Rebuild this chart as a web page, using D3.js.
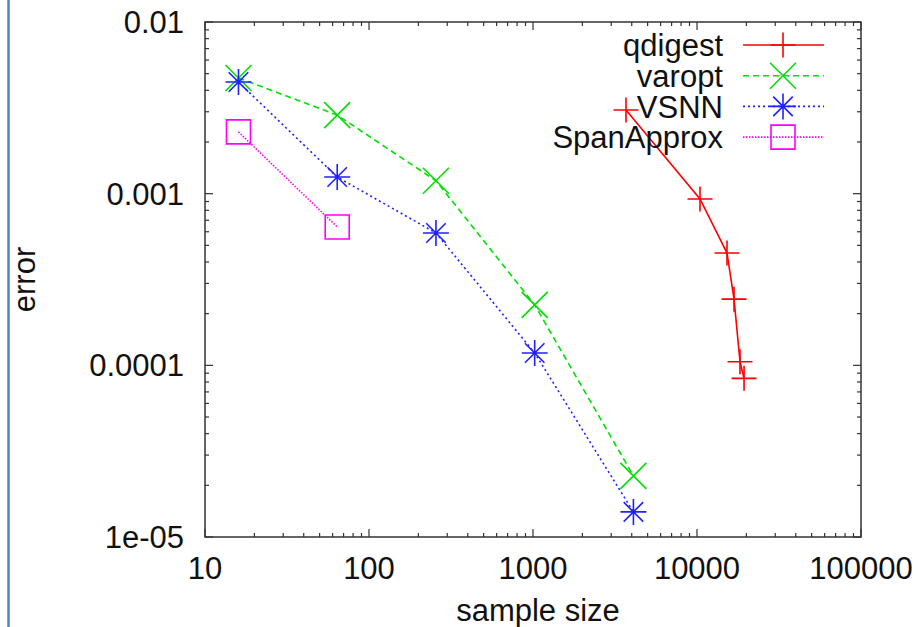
<!DOCTYPE html>
<html>
<head>
<meta charset="utf-8">
<script src="https://cdn.jsdelivr.net/npm/d3@7"></script>
<style>
  body { margin: 0; background: #fff; }
  text { font-family: "Liberation Sans", Arial, sans-serif; fill: #111; }
</style>
</head>
<body>
<div class="chart"></div>
<script>
// chart data
var sampleSizes = [16, 64, 256, 1024, 4096];
var varoptErr = [0.00472, 0.00287, 0.00119, 0.000225, 0.0000227];
var vsnnErr = [0.00447, 0.00125, 0.00059, 0.000118, 0.000014];
var spanSizes = [16, 64];
var spanErr = [0.00229, 0.00064];
var qdigestSizes = [3690, 10430, 15240, 16820, 18290, 19360];
var qdigestErr = [0.00307, 0.000931, 0.000451, 0.000243, 0.000105, 0.000084];

var xTicks = [10, 100, 1000, 10000, 100000];
var yTicks = [0.00001, 0.0001, 0.001, 0.01];
var yTickLabels = ["1e-05", "0.0001", "0.001", "0.01"];

var series = [
  { name: "qdigest", xs: qdigestSizes, ys: qdigestErr, color: "#ff0000", dash: null, marker: "plus" },
  { name: "varopt", xs: sampleSizes, ys: varoptErr, color: "#00e000", dash: "6,4", marker: "cross" },
  { name: "VSNN", xs: sampleSizes, ys: vsnnErr, color: "#2020ff", dash: "2,3", marker: "star" },
  { name: "SpanApprox", xs: spanSizes, ys: spanErr, color: "#ff00ff", dash: "1.5,1.5", marker: "square" }
];

var fontSize = "31px";

var svgWidth = 918;
var svgHeight = 627;
var margin = { top: 22, right: 57, bottom: 90, left: 205 };
var width = svgWidth - margin.left - margin.right;
var height = svgHeight - margin.top - margin.bottom;

var svg = d3.select(".chart")
  .append("svg")
  .attr("width", svgWidth)
  .attr("height", svgHeight);

// blue page border at left
svg.append("line")
  .attr("x1", 8.5).attr("x2", 8.5)
  .attr("y1", 0).attr("y2", svgHeight)
  .attr("stroke", "#4f81c8")
  .attr("stroke-width", 2.5);

var chartGroup = svg.append("g")
  .attr("transform", `translate(${margin.left}, ${margin.top})`);

var xScale = d3.scaleLog().domain([10, 100000]).range([0, width]);
var yScale = d3.scaleLog().domain([0.00001, 0.01]).range([height, 0]);

// minor ticks
var xMinor = [];
for (var e = 1; e < 5; e++) for (var m = 2; m < 10; m++) xMinor.push(m * Math.pow(10, e));
var yMinor = [];
for (var e2 = -5; e2 < -2; e2++) for (var m2 = 2; m2 < 10; m2++) yMinor.push(m2 * Math.pow(10, e2));

var tickGroup = chartGroup.append("g")
  .attr("stroke", "#333")
  .attr("stroke-width", 1.2);

function tickX(v, len) {
  var x = xScale(v);
  tickGroup.append("line").attr("x1", x).attr("x2", x).attr("y1", height).attr("y2", height - len);
  tickGroup.append("line").attr("x1", x).attr("x2", x).attr("y1", 0).attr("y2", len);
}
function tickY(v, len) {
  var y = yScale(v);
  tickGroup.append("line").attr("x1", 0).attr("x2", len).attr("y1", y).attr("y2", y);
  tickGroup.append("line").attr("x1", width).attr("x2", width - len).attr("y1", y).attr("y2", y);
}
xTicks.forEach(function(v) { tickX(v, 8); });
xMinor.forEach(function(v) { tickX(v, 4); });
yTicks.forEach(function(v) { tickY(v, 8); });
yMinor.forEach(function(v) { tickY(v, 4); });

// frame
chartGroup.append("rect")
  .attr("width", width)
  .attr("height", height)
  .attr("fill", "none")
  .attr("stroke", "#333")
  .attr("stroke-width", 1.5);

// tick labels
chartGroup.selectAll(".xlab")
  .data(xTicks)
  .enter()
  .append("text")
  .attr("x", d => xScale(d))
  .attr("y", height + 42)
  .attr("text-anchor", "middle")
  .style("font-size", fontSize)
  .text(d => d);

chartGroup.selectAll(".ylab")
  .data(yTicks)
  .enter()
  .append("text")
  .attr("x", -21)
  .attr("y", d => yScale(d))
  .attr("dy", "0.36em")
  .attr("text-anchor", "end")
  .style("font-size", fontSize)
  .text((d, i) => yTickLabels[i]);

// axis titles
chartGroup.append("text")
  .attr("x", width / 2 + 5)
  .attr("y", height + 84)
  .attr("text-anchor", "middle")
  .style("font-size", fontSize)
  .text("sample size");

svg.append("text")
  .attr("transform", `translate(35, ${margin.top + height / 2}) rotate(-90)`)
  .attr("text-anchor", "middle")
  .style("font-size", fontSize)
  .text("error");

// marker shapes
function markerPath(type, r) {
  if (type === "plus") return `M${-r},0H${r}M0,${-r}V${r}`;
  if (type === "cross") return `M${-r},${-r}L${r},${r}M${-r},${r}L${r},${-r}`;
  if (type === "star") return `M${-r},0H${r}M0,${-r}V${r}M${-r * 0.75},${-r * 0.75}L${r * 0.75},${r * 0.75}M${-r * 0.75},${r * 0.75}L${r * 0.75},${-r * 0.75}`;
  return `M${-r},${-r}H${r}V${r}H${-r}Z`;
}
var markerSize = { plus: 12.5, cross: 13, star: 13, square: 12 };

var line = d3.line()
  .x(d => xScale(d[0]))
  .y(d => yScale(d[1]));

series.forEach(function(s) {
  var pts = s.xs.map((x, i) => [x, s.ys[i]]);
  chartGroup.append("path")
    .datum(pts)
    .attr("d", line)
    .attr("fill", "none")
    .attr("stroke", s.color)
    .attr("stroke-width", 1.6)
    .attr("stroke-dasharray", s.dash);

  chartGroup.selectAll(null)
    .data(pts)
    .enter()
    .append("path")
    .attr("transform", d => `translate(${xScale(d[0])}, ${yScale(d[1])})`)
    .attr("d", markerPath(s.marker, markerSize[s.marker]))
    .attr("fill", "none")
    .attr("stroke", s.color)
    .attr("stroke-width", 1.6);
});

// legend
var legend = chartGroup.append("g")
  .attr("transform", `translate(${723 - margin.left}, ${45 - margin.top})`);

series.forEach(function(s, i) {
  var g = legend.append("g").attr("transform", `translate(0, ${i * 30.7})`);
  g.append("text")
    .attr("x", 0)
    .attr("y", 0)
    .attr("dy", "0.36em")
    .attr("text-anchor", "end")
    .style("font-size", fontSize)
    .text(s.name);
  g.append("line")
    .attr("x1", 20).attr("x2", 101)
    .attr("y1", 0).attr("y2", 0)
    .attr("stroke", s.color)
    .attr("stroke-width", 1.6)
    .attr("stroke-dasharray", s.dash);
  g.append("path")
    .attr("transform", "translate(60, 0)")
    .attr("d", markerPath(s.marker, markerSize[s.marker]))
    .attr("fill", "none")
    .attr("stroke", s.color)
    .attr("stroke-width", 1.6);
});
</script>
</body>
</html>
